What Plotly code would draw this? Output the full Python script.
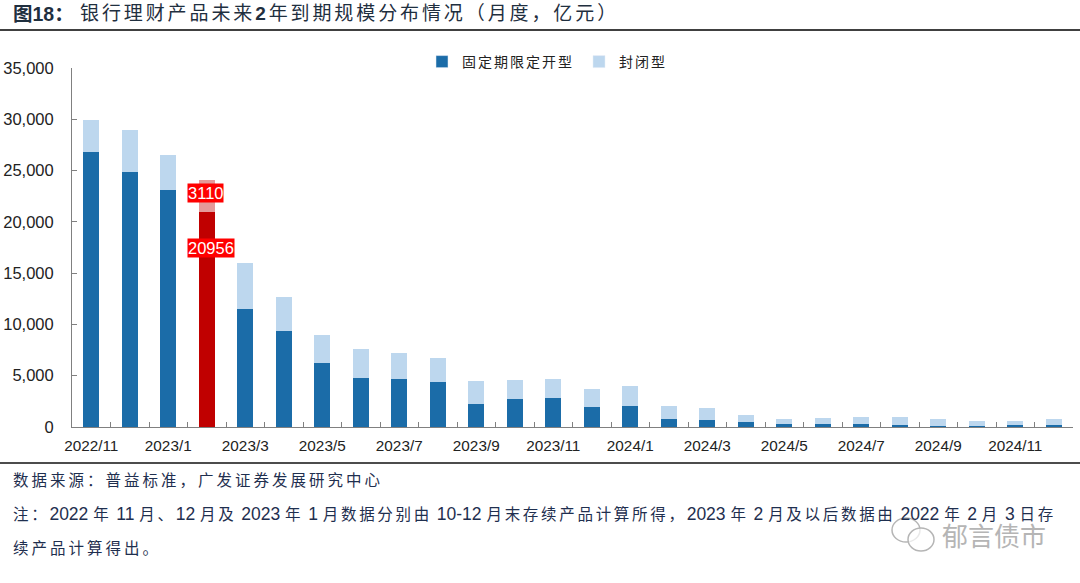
import re
import plotly.graph_objects as go

months = ["2022/11","2022/12","2023/1","2023/2","2023/3","2023/4","2023/5","2023/6","2023/7","2023/8","2023/9","2023/10","2023/11","2023/12",
          "2024/1","2024/2","2024/3","2024/4","2024/5","2024/6","2024/7","2024/8","2024/9","2024/10","2024/11","2024/12"]
tick_labels = [m if i % 2 == 0 else "" for i, m in enumerate(months)]
fixed_open = [26800,24850,23100,20956,11500,9400,6200,4800,4700,4350,2200,2700,2800,1950,2000,800,700,450,300,330,320,180,130,120,170,230]
closed = [3100,4150,3450,3110,4500,3250,2800,2800,2550,2350,2250,1900,1850,1800,1950,1250,1200,750,500,500,630,770,620,430,430,570]
highlight_month = "2023/2"
series_names = ["固定期限定开型", "封闭型"]

FONT = "Liberation Sans, Arial, Noto Sans CJK SC"
DARK = "#1B6CA8"
LIGHT = "#BDD7EE"
colors_a = ["#C00000" if m == highlight_month else DARK for m in months]
colors_b = ["#E59A9A" if m == highlight_month else LIGHT for m in months]

def spaced(text, px):
    return f'<span style="letter-spacing:{px}px">{text}</span>'

def mixed(text, px=2.7, digit_size=17.5):
    # CJK runs are tracked out, digit runs (with their spaces) are set larger and tight, as in the reference
    out = []
    for part in re.split(r"( ?[0-9][0-9\-]* ?)", text):
        if not part:
            continue
        if re.search(r"[0-9]", part):
            out.append(f'<span style="font-size:{digit_size}px;letter-spacing:0px">{part}</span>')
        else:
            out.append(spaced(part, px))
    return "".join(out)

fig = go.Figure()
fig.add_bar(x=months, y=fixed_open, name=series_names[0], marker=dict(color=colors_a, line_width=0), showlegend=False)
fig.add_bar(x=months, y=closed, name=series_names[1], marker=dict(color=colors_b, line_width=0), showlegend=False)
# legend swatches keep the series colours
fig.add_bar(x=[months[0]], y=[None], name=spaced(series_names[0], 2), marker_color=DARK)
fig.add_bar(x=[months[0]], y=[None], name=spaced(series_names[1], 2), marker_color=LIGHT)

W, H = 1080, 583
L, R, T, B = 72, 1073, 68, 427
fig.update_layout(
    width=W, height=H, margin=dict(l=0, r=0, t=0, b=0), autosize=False,
    barmode="stack", bargap=0.58, plot_bgcolor="white", paper_bgcolor="white",
    font=dict(family=FONT, size=15, color="#222222"),
    legend=dict(orientation="h", x=422 / W, xanchor="left", y=1 - 62 / H, yanchor="middle", traceorder="normal",
                font=dict(size=14, color="#222222"), itemwidth=30, tracegroupgap=0, bgcolor="rgba(0,0,0,0)"),
    xaxis=dict(domain=[L / W, R / W], type="category", categoryorder="array", categoryarray=months,
               tickmode="array", tickvals=months, ticktext=tick_labels, tickson="boundaries",
               ticks="inside", ticklen=5, tickcolor="#808080", tickwidth=1, ticklabelstandoff=5,
               showline=True, linecolor="#808080", linewidth=1, showgrid=False, tickangle=0,
               tickfont=dict(size=15.3, color="#222222"), anchor="y", automargin=False),
    yaxis=dict(domain=[1 - B / H, 1 - T / H], range=[0, 35000], tickvals=[0,5000,10000,15000,20000,25000,30000,35000],
               tickformat=",d", ticks="inside", ticklen=5, tickcolor="#808080", tickwidth=1, ticklabelstandoff=14,
               showline=True, linecolor="#808080", linewidth=1, showgrid=False, zeroline=False,
               tickfont=dict(size=16.5, color="#222222"), automargin=False),
    bargroupgap=0,
)

def note(x, y, text, size=14.5, color="#1F2F4F", **kw):
    fig.add_annotation(xref="paper", yref="paper", x=x / W, y=1 - y / H, text=text, showarrow=False,
                       xanchor="left", yanchor="middle", font=dict(size=size, color=color, family=FONT), **kw)

note(11, 14, "<b>图18：</b>", size=19.5, color="#1F2F3F")
note(78, 14, spaced("银行理财产品未来<b>2</b>年到期规模分布情况（月度，亿元）", 2.9), size=19, color="#1F2F3F")
note(11, 481, spaced("数据来源：普益标准，广发证券发展研究中心", 3), size=15.5)
note(11, 514, mixed("注：2022 年 11 月、12 月及 2023 年 1 月数据分别由 10-12 月末存续产品计算所得，2023 年 2 月及以后数据由 2022 年 2 月 3 日存"), size=15.5)
note(11, 548, spaced("续产品计算得出。", 3), size=15.5)
note(940, 537, "郁言债市", size=26, color="#B5B5B5")

i = months.index(highlight_month)
fig.add_annotation(x=highlight_month, y=fixed_open[i] + closed[i] / 2, yshift=3, xanchor="left", xshift=-19.5,
                   text=str(closed[i]), showarrow=False, bgcolor="#FF0000",
                   font=dict(color="white", size=16.5, family=FONT), borderpad=0)
fig.add_annotation(x=highlight_month, y=fixed_open[i] / 2, yshift=72, xanchor="left", xshift=-19.5,
                   text=str(fixed_open[i]), showarrow=False, bgcolor="#FF0000",
                   font=dict(color="white", size=16.5, family=FONT), borderpad=0)

def paper_line(y, color, w):
    fig.add_shape(type="line", xref="paper", yref="paper", x0=0, x1=1, y0=1 - y / H, y1=1 - y / H,
                  line=dict(color=color, width=w))
paper_line(30, "#404040", 2)
paper_line(463, "#111111", 1.5)

# WeChat-style watermark mark
for x0, y0, x1, y1 in [(892, 518, 920, 542), (908, 528, 934, 551)]:
    fig.add_shape(type="circle", xref="paper", yref="paper", x0=x0 / W, x1=x1 / W, y0=1 - y0 / H, y1=1 - y1 / H,
                  line=dict(color="#B5B5B5", width=1.5), fillcolor="rgba(255,255,255,0.7)")

fig.write_html("out.html", config={"displayModeBar": False}, post_script="document.body.style.margin='0';")
